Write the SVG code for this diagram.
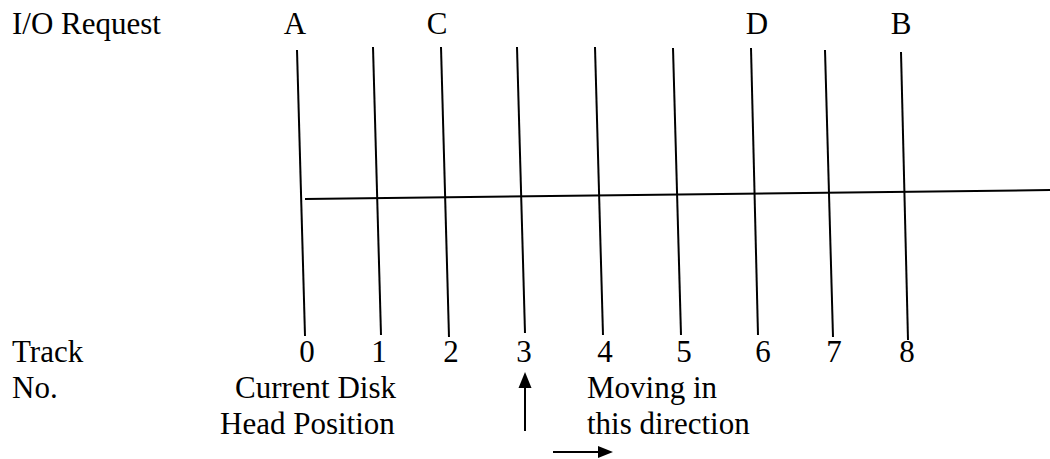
<svg xmlns="http://www.w3.org/2000/svg" width="1050" height="459" viewBox="0 0 1050 459">
<style>
  text { font-family: "Liberation Serif", "Times New Roman", serif; font-size: 31px; fill: #000; }
  .mid { text-anchor: middle; }
  .ln { stroke: #000; stroke-width: 2; fill: none; }
  .ar { fill: #000; }
</style>
<rect width="1050" height="459" fill="#fff"/>
<g id="labels">
  <text x="12" y="34">I/O Request</text>
  <text x="12" y="362">Track</text>
  <text x="12" y="398">No.</text>
</g>
<g id="requests">
  <text class="mid" x="295" y="34">A</text>
  <text class="mid" x="437" y="34">C</text>
  <text class="mid" x="757" y="34">D</text>
  <text class="mid" x="901" y="34">B</text>
</g>
<g id="track-0"><line class="ln" x1="297" y1="50" x2="305" y2="336"/><text class="mid" x="307" y="362">0</text></g>
<g id="track-1"><line class="ln" x1="373" y1="47" x2="381" y2="335"/><text class="mid" x="379" y="362">1</text></g>
<g id="track-2"><line class="ln" x1="441" y1="47" x2="449" y2="337"/><text class="mid" x="451" y="362">2</text></g>
<g id="track-3"><line class="ln" x1="517" y1="47" x2="525" y2="333"/><text class="mid" x="524" y="362">3</text></g>
<g id="track-4"><line class="ln" x1="595" y1="47" x2="603" y2="335"/><text class="mid" x="605" y="362">4</text></g>
<g id="track-5"><line class="ln" x1="673" y1="48" x2="681" y2="335"/><text class="mid" x="684" y="362">5</text></g>
<g id="track-6"><line class="ln" x1="751" y1="48" x2="758" y2="335"/><text class="mid" x="763" y="362">6</text></g>
<g id="track-7"><line class="ln" x1="825" y1="50" x2="833" y2="337"/><text class="mid" x="834" y="362">7</text></g>
<g id="track-8"><line class="ln" x1="901" y1="52" x2="908" y2="340"/><text class="mid" x="907" y="362">8</text></g>
<g id="axis"><line class="ln" x1="305" y1="199" x2="1050" y2="190"/></g>
<g id="head-label">
  <text x="235" y="398">Current Disk</text>
  <text x="220" y="434">Head Position</text>
</g>
<g id="direction-label">
  <text x="587" y="398">Moving in</text>
  <text x="587" y="434">this direction</text>
</g>
<g id="connectors">
  <line class="ln" x1="525" y1="431" x2="525" y2="386"/>
  <polygon class="ar" points="525,372 518.5,388 531.5,388"/>
  <line class="ln" x1="553" y1="452" x2="599" y2="452"/>
  <polygon class="ar" points="613,452 598,446 598,458"/>
</g>
</svg>
